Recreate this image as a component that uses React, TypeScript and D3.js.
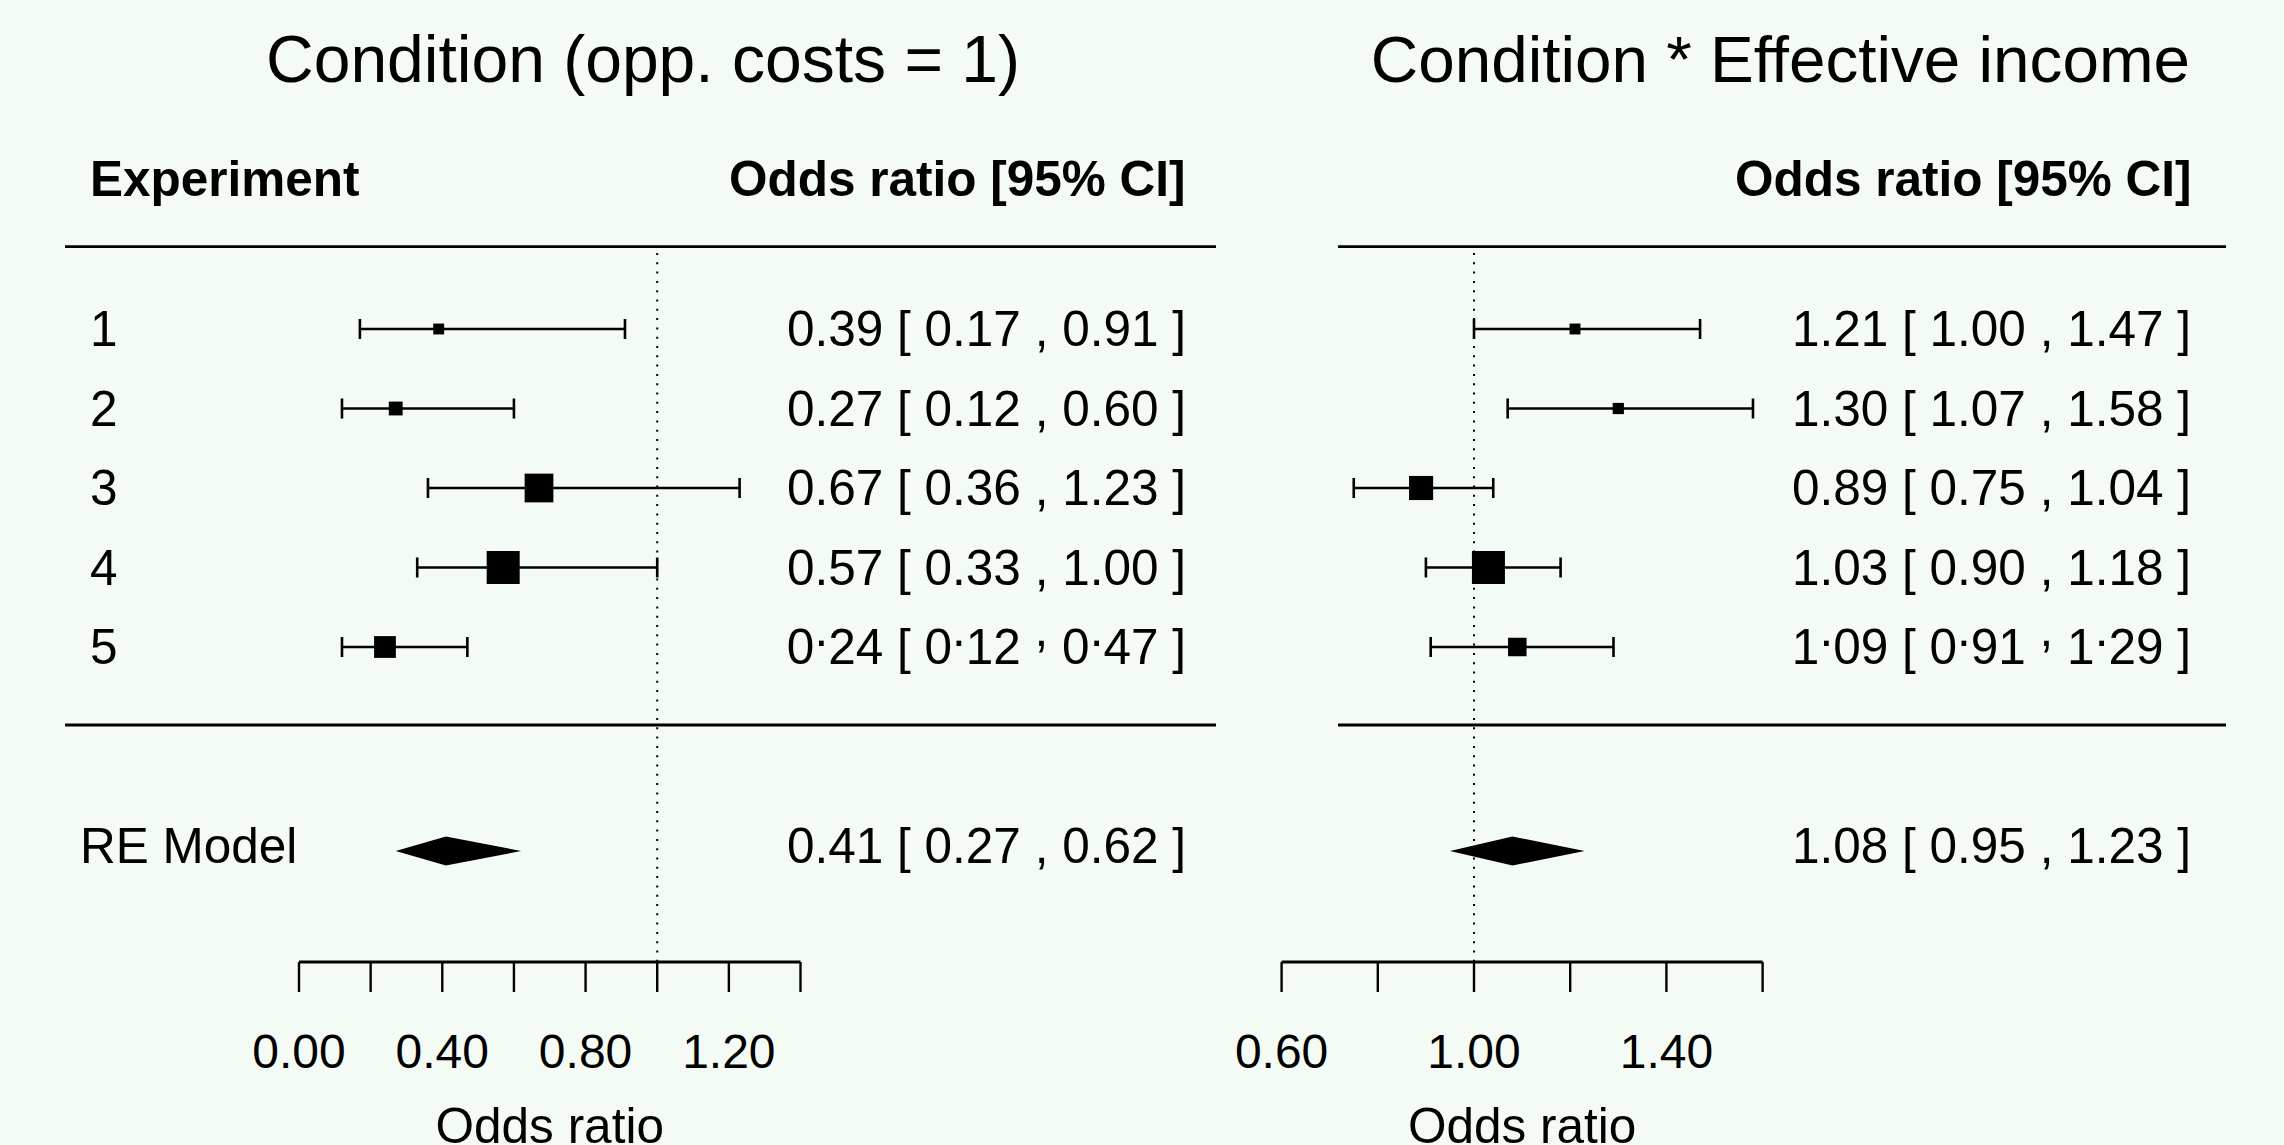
import React from 'react';
import * as d3 from 'd3';

// ---------- data ----------
const experiments = ['1', '2', '3', '4', '5'];
const leftEst = [0.39, 0.27, 0.67, 0.57, 0.24];
const leftLo = [0.17, 0.12, 0.36, 0.33, 0.12];
const leftHi = [0.91, 0.6, 1.23, 1.0, 0.47];
const leftWeight = [0.33, 0.42, 0.87, 1.0, 0.66];
const leftRE = { est: 0.41, lo: 0.27, hi: 0.62 };

const rightEst = [1.21, 1.3, 0.89, 1.03, 1.09];
const rightLo = [1.0, 1.07, 0.75, 0.9, 0.91];
const rightHi = [1.47, 1.58, 1.04, 1.18, 1.29];
const rightWeight = [0.33, 0.34, 0.73, 1.0, 0.56];
const rightRE = { est: 1.08, lo: 0.95, hi: 1.23 };

// rows printed with raised (centred) separators
const raisedMarks = [false, false, false, false, true];

const leftTicks = [0, 0.2, 0.4, 0.6, 0.8, 1.0, 1.2, 1.4];
const leftTickLabels = ['0.00', '', '0.40', '', '0.80', '', '1.20', ''];
const rightTicks = [0.6, 0.8, 1.0, 1.2, 1.4, 1.6];
const rightTickLabels = ['0.60', '', '1.00', '', '1.40', ''];

const leftTitle = 'Condition (opp. costs = 1)';
const rightTitle = 'Condition * Effective income';
const expHeader = 'Experiment';
const ciHeader = 'Odds ratio [95% CI]';
const xLabel = 'Odds ratio';
const reLabel = 'RE Model';

// ---------- layout ----------
const W = 2284;
const H = 1145;
const BG = '#F4FAF4';
const FONT = '"Liberation Sans", Arial, Helvetica, sans-serif';
const FS = 49.5;
const RAISE = 18;
const fmt = d3.format('.2f');

const rowY = d3.scaleLinear().domain([0, 4]).range([329, 647]);
const reY = 851;
const ruleTop = 246.7;
const ruleBottom = 725;
const axisY = 962;
const sizeScale = d3.scaleLinear().domain([0, 1]).range([0, 33]);

function CIText({ x, y, est, lo, hi, raised }: any) {
  const s = `${fmt(est)} [ ${fmt(lo)} , ${fmt(hi)} ]`;
  if (!raised) {
    return (
      <text x={x} y={y} textAnchor="end" fontSize={FS}>
        {s}
      </text>
    );
  }
  // split into pieces; '.' and ',' are drawn raised to mid-height
  const pieces: { t: string; up: boolean }[] = [];
  for (const ch of s) {
    const up = ch === '.' || ch === ',';
    const last = pieces[pieces.length - 1];
    if (last && last.up === up && !up) last.t += ch;
    else pieces.push({ t: ch, up });
  }
  let cur = 0;
  return (
    <text x={x} y={y} textAnchor="end" fontSize={FS}>
      {pieces.map((p, i) => {
        const target = p.up ? -RAISE : 0;
        const dy = target - cur;
        cur = target;
        return (
          <tspan key={i} dy={dy}>
            {p.t}
          </tspan>
        );
      })}
    </text>
  );
}

function Panel({ x, est, lo, hi, weight, re, ticks, tickLabels, ruleX0, ruleX1, textRight }: any) {
  const x1 = x(1);
  return (
    <g>
      <line x1={ruleX0} x2={ruleX1} y1={ruleTop} y2={ruleTop} stroke="#000" strokeWidth={2.8} />
      <line x1={ruleX0} x2={ruleX1} y1={ruleBottom} y2={ruleBottom} stroke="#000" strokeWidth={2.8} />
      <line x1={x1} x2={x1} y1={253} y2={axisY} stroke="#000" strokeWidth={2} strokeDasharray="2 7.3" />
      {est.map((e: number, i: number) => {
        const y = rowY(i);
        const s = sizeScale(weight[i]);
        return (
          <g key={i}>
            <line x1={x(lo[i])} x2={x(hi[i])} y1={y} y2={y} stroke="#000" strokeWidth={2.6} />
            <line x1={x(lo[i])} x2={x(lo[i])} y1={y - 10} y2={y + 10} stroke="#000" strokeWidth={2.6} />
            <line x1={x(hi[i])} x2={x(hi[i])} y1={y - 10} y2={y + 10} stroke="#000" strokeWidth={2.6} />
            <rect x={x(e) - s / 2} y={y - s / 2} width={s} height={s} fill="#000" />
            <CIText x={textRight} y={y + 17} est={e} lo={lo[i]} hi={hi[i]} raised={raisedMarks[i]} />
          </g>
        );
      })}
      <polygon
        points={[
          [x(re.lo), reY],
          [x(re.est), reY - 14.5],
          [x(re.hi), reY],
          [x(re.est), reY + 14.5],
        ].map((p) => p.join(',')).join(' ')}
        fill="#000"
      />
      <CIText x={textRight} y={reY + 12} est={re.est} lo={re.lo} hi={re.hi} raised={false} />
      {/* axis */}
      <line x1={x(ticks[0])} x2={x(ticks[ticks.length - 1])} y1={axisY} y2={axisY} stroke="#000" strokeWidth={2.8} />
      {ticks.map((t: number, i: number) => (
        <g key={'t' + i}>
          <line x1={x(t)} x2={x(t)} y1={axisY} y2={axisY + 30} stroke="#000" strokeWidth={2.4} />
          {tickLabels[i] && (
            <text x={x(t)} y={1068} textAnchor="middle" fontSize={48}>
              {tickLabels[i]}
            </text>
          )}
        </g>
      ))}
      <text x={(x(ticks[0]) + x(ticks[ticks.length - 1])) / 2} y={1143} textAnchor="middle" fontSize={FS}>
        {xLabel}
      </text>
    </g>
  );
}

export default function App() {
  const xL = d3.scaleLinear().domain([0, 1.4]).range([299, 800.5]);
  const xR = d3.scaleLinear().domain([0.6, 1.6]).range([1281.6, 1762.6]);
  return (
    <svg
      width={W}
      height={H}
      viewBox={`0 0 ${W} ${H}`}
      style={{ position: 'absolute', left: 0, top: 0, display: 'block', background: BG }}
      fontFamily={FONT}
    >
      <rect x={0} y={0} width={W} height={H} fill={BG} />
      <text x={643} y={82} textAnchor="middle" fontSize={66}>{leftTitle}</text>
      <text x={2190} y={82} textAnchor="end" fontSize={65.6}>{rightTitle}</text>
      <text x={90} y={196} fontSize={FS} fontWeight="bold">{expHeader}</text>
      <text x={1185.5} y={196} textAnchor="end" fontSize={FS} fontWeight="bold">{ciHeader}</text>
      <text x={2191.5} y={196} textAnchor="end" fontSize={FS} fontWeight="bold">{ciHeader}</text>
      {experiments.map((e, i) => (
        <text key={e} x={90} y={rowY(i) + 17} fontSize={FS}>{e}</text>
      ))}
      <text x={80} y={reY + 12} fontSize={FS}>{reLabel}</text>
      <Panel
        x={xL}
        est={leftEst}
        lo={leftLo}
        hi={leftHi}
        weight={leftWeight}
        re={leftRE}
        ticks={leftTicks}
        tickLabels={leftTickLabels}
        ruleX0={65}
        ruleX1={1216}
        textRight={1186}
      />
      <Panel
        x={xR}
        est={rightEst}
        lo={rightLo}
        hi={rightHi}
        weight={rightWeight}
        re={rightRE}
        ticks={rightTicks}
        tickLabels={rightTickLabels}
        ruleX0={1338}
        ruleX1={2226}
        textRight={2191}
      />
    </svg>
  );
}
